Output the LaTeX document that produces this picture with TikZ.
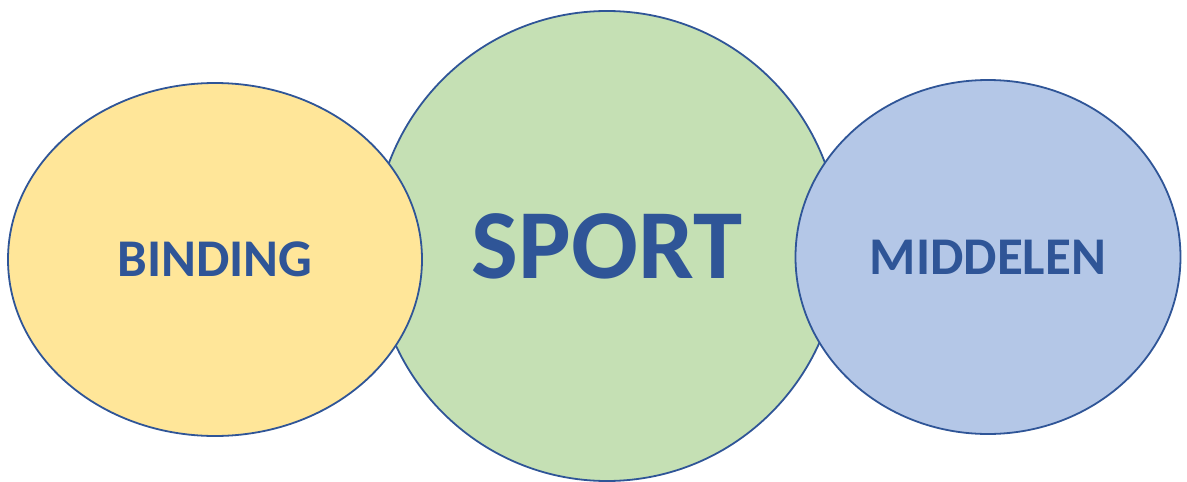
\documentclass[tikz,border=0pt]{standalone}
\usepackage{fontspec}
\setmainfont{Carlito}
\usetikzlibrary{shapes.geometric}
\usepackage{xcolor}
\definecolor{ColLine}{RGB}{47,85,151}
\definecolor{ColYellow}{RGB}{255,230,153}
\definecolor{ColGreen}{RGB}{197,224,180}
\definecolor{ColBlue}{RGB}{180,199,231}
\tikzstyle{Bubble}=[ellipse,draw=ColLine,line width=1.8pt,inner sep=0pt,
text=ColLine,font=\bfseries\fontsize{53}{64}\selectfont]
\begin{document}
\begin{tikzpicture}[x=1pt,y=-1pt]
        \useasboundingbox (0,0) rectangle (1187,482);
        \node[Bubble,fill=ColGreen,minimum width=466pt,minimum height=470pt,
            font=\bfseries\fontsize{99}{114}\selectfont](sport)at(607,246){SPORT};
        \node[Bubble,fill=ColYellow,minimum width=414pt,minimum height=353pt](binding)at(215,259.5){BINDING};
        \node[Bubble,fill=ColBlue,minimum width=385pt,minimum height=354pt](middelen)at(988,257){MIDDELEN};
    \end{tikzpicture}
\end{document}
